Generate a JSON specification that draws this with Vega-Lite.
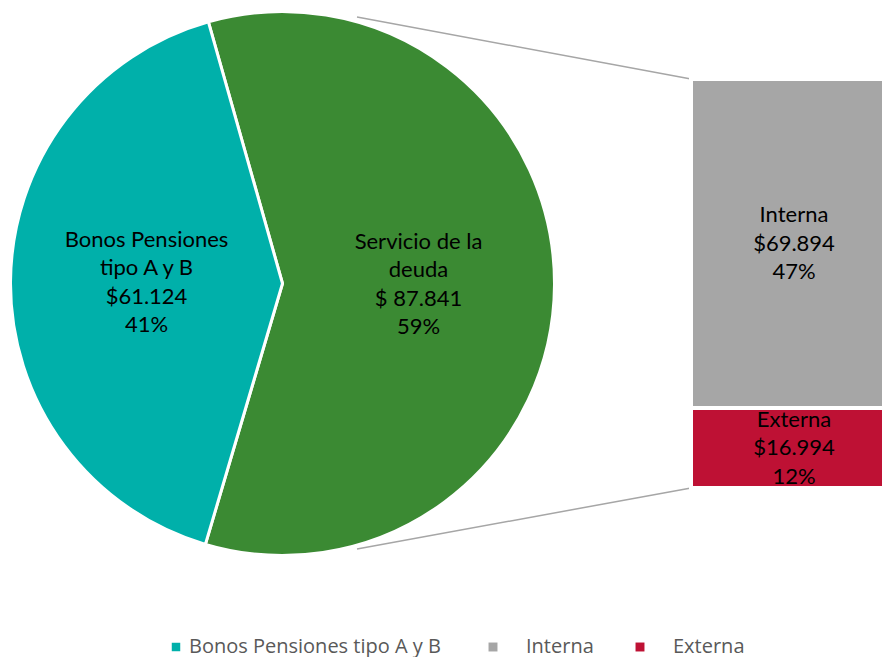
{
  "$schema": "https://vega.github.io/schema/vega-lite/v6.json",
  "width": 882,
  "height": 657,
  "autosize": "none",
  "padding": 0,
  "background": "white",
  "config": {"view": {"stroke": null}, "legend": {"padding": 0}},
  "datasets": {
    "pie": [
      {"categoria": "Servicio de la deuda", "valor": 87841, "orden": 1, "etiqueta": "Servicio de la\ndeuda\n$ 87.841\n59%"},
      {"categoria": "Bonos Pensiones tipo A y B", "valor": 61124, "orden": 2, "etiqueta": "Bonos Pensiones\ntipo A y B\n$61.124\n41%"}
    ],
    "barra": [
      {"categoria": "Externa", "valor": 16994, "orden": 1, "etiqueta": "Externa\n$16.994\n12%"},
      {"categoria": "Interna", "valor": 69894, "orden": 2, "etiqueta": "Interna\n$69.894\n47%"}
    ]
  },
  "resolve": {"scale": {"y": "independent"}},
  "layer": [
    {
      "data": {"name": "pie"},
      "mark": {"type": "arc", "outerRadius": 272, "stroke": "white", "strokeWidth": 3},
      "encoding": {
        "theta": {"field": "valor", "type": "quantitative", "stack": true, "scale": {"range": [-0.276, 6.0072]}},
        "order": {"field": "orden", "type": "quantitative"},
        "color": {
          "field": "categoria",
          "type": "nominal",
          "scale": {
            "domain": ["Bonos Pensiones tipo A y B", "Servicio de la deuda"],
            "range": ["#00B0AA", "#3B8A33"]
          },
          "legend": {
            "orient": "none",
            "legendX": 166,
            "legendY": 637,
            "direction": "horizontal",
            "title": null,
            "values": ["Bonos Pensiones tipo A y B"],
            "symbolType": "square",
            "symbolSize": 72,
            "symbolStrokeWidth": 0,
            "symbolOpacity": 1,
            "labelFont": "Open Sans",
            "labelFontSize": 20,
            "labelColor": "#595959",
            "labelOffset": 3,
            "labelLimit": 400
          }
        },
        "x": {"datum": 282.5, "type": "quantitative", "scale": {"domain": [0, 882], "nice": false, "zero": false}, "axis": null},
        "y": {"datum": 283.5, "type": "quantitative", "scale": {"domain": [0, 657], "reverse": true, "nice": false, "zero": false}, "axis": null}
      }
    },
    {
      "data": {"name": "pie"},
      "mark": {"type": "text", "radius": 136, "dy": -42.75, "font": "Lato", "fontSize": 22, "lineBreak": "\n", "lineHeight": 28.5, "align": "center", "baseline": "middle", "color": "black"},
      "encoding": {
        "theta": {"field": "valor", "type": "quantitative", "stack": true, "scale": {"range": [-0.276, 6.0072]}},
        "order": {"field": "orden", "type": "quantitative"},
        "text": {"field": "etiqueta", "type": "nominal"},
        "x": {"datum": 282.5, "type": "quantitative", "scale": {"domain": [0, 882], "nice": false, "zero": false}, "axis": null},
        "y": {"datum": 283.5, "type": "quantitative", "scale": {"domain": [0, 657], "reverse": true, "nice": false, "zero": false}, "axis": null}
      }
    },
    {
      "data": {"values": [{}]},
      "mark": {"type": "rule", "color": "#A6A6A6", "strokeWidth": 1.5},
      "encoding": {
        "x": {"datum": 357, "type": "quantitative", "scale": {"domain": [0, 882], "nice": false, "zero": false}, "axis": null},
        "x2": {"datum": 691},
        "y": {"datum": 17, "type": "quantitative", "scale": {"domain": [0, 657], "reverse": true, "nice": false, "zero": false}, "axis": null},
        "y2": {"datum": 79}
      }
    },
    {
      "data": {"values": [{}]},
      "mark": {"type": "rule", "color": "#A6A6A6", "strokeWidth": 1.5},
      "encoding": {
        "x": {"datum": 357, "type": "quantitative", "scale": {"domain": [0, 882], "nice": false, "zero": false}, "axis": null},
        "x2": {"datum": 691},
        "y": {"datum": 549, "type": "quantitative", "scale": {"domain": [0, 657], "reverse": true, "nice": false, "zero": false}, "axis": null},
        "y2": {"datum": 488}
      }
    },
    {
      "data": {"name": "barra"},
      "transform": [{"stack": "valor", "groupby": [], "sort": [{"field": "orden"}], "as": ["v0", "v1"]}],
      "mark": {"type": "rect", "stroke": "white", "strokeWidth": 4, "clip": true},
      "encoding": {
        "x": {"datum": 691, "type": "quantitative", "scale": {"domain": [0, 882], "nice": false, "zero": false}, "axis": null},
        "x2": {"datum": 895},
        "y": {"field": "v0", "type": "quantitative", "scale": {"domain": [-35902, 103672], "nice": false, "zero": false}, "axis": null},
        "y2": {"field": "v1"},
        "fill": {
          "field": "categoria",
          "type": "nominal",
          "scale": {"domain": ["Interna", "Externa"], "range": ["#A6A6A6", "#BE1134"]},
          "legend": {
            "orient": "none",
            "legendX": 483,
            "legendY": 637,
            "direction": "horizontal",
            "title": null,
            "symbolType": "square",
            "symbolSize": 80,
            "symbolStrokeWidth": 0,
            "symbolOpacity": 1,
            "labelFont": "Open Sans",
            "labelFontSize": 20,
            "labelColor": "#595959",
            "labelOffset": 23,
            "columnPadding": 36,
            "labelLimit": 400
          }
        }
      }
    },
    {
      "data": {"name": "barra"},
      "transform": [
        {"stack": "valor", "groupby": [], "sort": [{"field": "orden"}], "as": ["v0", "v1"]},
        {"calculate": "(datum.v0 + datum.v1) / 2", "as": "vmedio"}
      ],
      "mark": {"type": "text", "dy": -28.5, "font": "Lato", "fontSize": 22, "lineBreak": "\n", "lineHeight": 28.5, "align": "center", "baseline": "middle", "color": "black"},
      "encoding": {
        "x": {"datum": 794, "type": "quantitative", "scale": {"domain": [0, 882], "nice": false, "zero": false}, "axis": null},
        "y": {"field": "vmedio", "type": "quantitative", "scale": {"domain": [-35902, 103672], "nice": false, "zero": false}, "axis": null},
        "text": {"field": "etiqueta", "type": "nominal"}
      }
    }
  ]
}
